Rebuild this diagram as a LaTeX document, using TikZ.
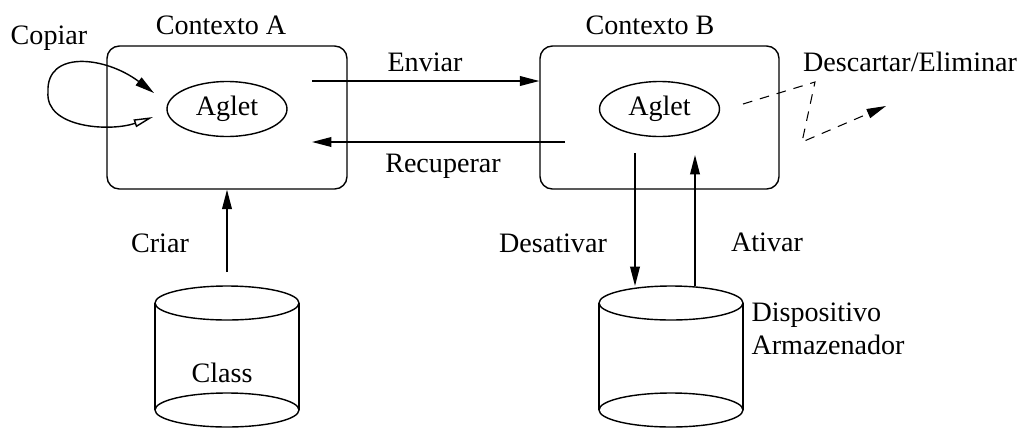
\documentclass[tikz,border=0pt]{standalone}
\usepackage{fontspec}
\setmainfont{Liberation Serif}
\usetikzlibrary{arrows.meta,shapes.geometric}
\tikzset{
  every node/.style={font=\fontsize{16}{19}\selectfont},
  ctx/.style={draw,rectangle,rounded corners=7pt,inner sep=0pt,minimum width=4.8cm,minimum height=2.86cm},
  aglet/.style={draw,ellipse,inner sep=0pt,minimum width=2.4cm,minimum height=1.1cm},
  tip/.style={-{Triangle[length=11pt,width=5.5pt]}},
}
\begin{document}
\begin{tikzpicture}[x=0.02cm,y=-0.02cm,line width=0.8pt]
\useasboundingbox (0,0) rectangle (1025,427);
% contextos
\node[ctx] (ctxA) at (227,117.5) {};
\node[ctx,minimum width=4.78cm] (ctxB) at (659.5,117.5) {};
\node[aglet] (agA) at (227,109) {Aglet};
\node[aglet] (agB) at (659.5,109) {Aglet};
\node (labA) at (221,25) {Contexto A};
\node (labB) at (650,25) {Contexto B};
% copiar
\coordinate (cpIn) at (153,117);
\coordinate (cpOut) at (154,93);
\draw[{Triangle[open,length=11pt,width=4.5pt]}-{Triangle[length=11pt,width=5.5pt]}] (cpIn) .. controls (110,132) and (45,128) .. (48,92) .. controls (46,50) and (105,56) .. (cpOut);
\node (copiar) at (49,38) {Copiar};
% enviar / recuperar
\coordinate (sendA) at (312,81);
\coordinate (backB) at (565,142);
\draw[tip] (sendA) -- (ctxB.west |- sendA);
\draw[tip] (backB) -- (sendA |- backB);
\node (enviar) at (425,62) {Enviar};
\node (recup) at (443,166) {Recuperar};
% descartar
\coordinate (dsA) at (743,104);
\coordinate (dsB) at (815,82);
\coordinate (dsC) at (802,142);
\coordinate (dsD) at (886,106);
\draw[tip,dash pattern=on 5.5pt off 4.5pt,line width=0.6pt] (dsA) -- (dsB) -- (dsC) -- (dsD);
\node (descartar) at (910,62) {Descartar/Eliminar};
% cilindros
\draw (227,303) ellipse [x radius=1.44cm,y radius=0.34cm];
\draw (227,410) ellipse [x radius=1.44cm,y radius=0.34cm];
\draw (155,303) -- (155,410) (299,303) -- (299,410);
\draw (671,303) ellipse [x radius=1.44cm,y radius=0.34cm];
\draw (671,410) ellipse [x radius=1.44cm,y radius=0.34cm];
\draw (599,303) -- (599,410) (743,303) -- (743,410);
\coordinate (cylA) at (227,272);
\node (class) at (222,373) {Class};
\node[anchor=west,align=left] (armaz) at (745,329) {Dispositivo\\Armazenador};
% criar / desativar / ativar
\draw[tip] (cylA) -- (ctxA.south);
\node (criar) at (160,243) {Criar};
\coordinate (desA) at (635,153);
\coordinate (desB) at (635,286);
\coordinate (atA) at (695,286);
\coordinate (atB) at (695,155);
\draw[tip] (desA) -- (desB);
\draw[tip] (atA) -- (atB);
\node (desat) at (553,243) {Desativar};
\node (ativar) at (767,242) {Ativar};
\end{tikzpicture}
\end{document}
